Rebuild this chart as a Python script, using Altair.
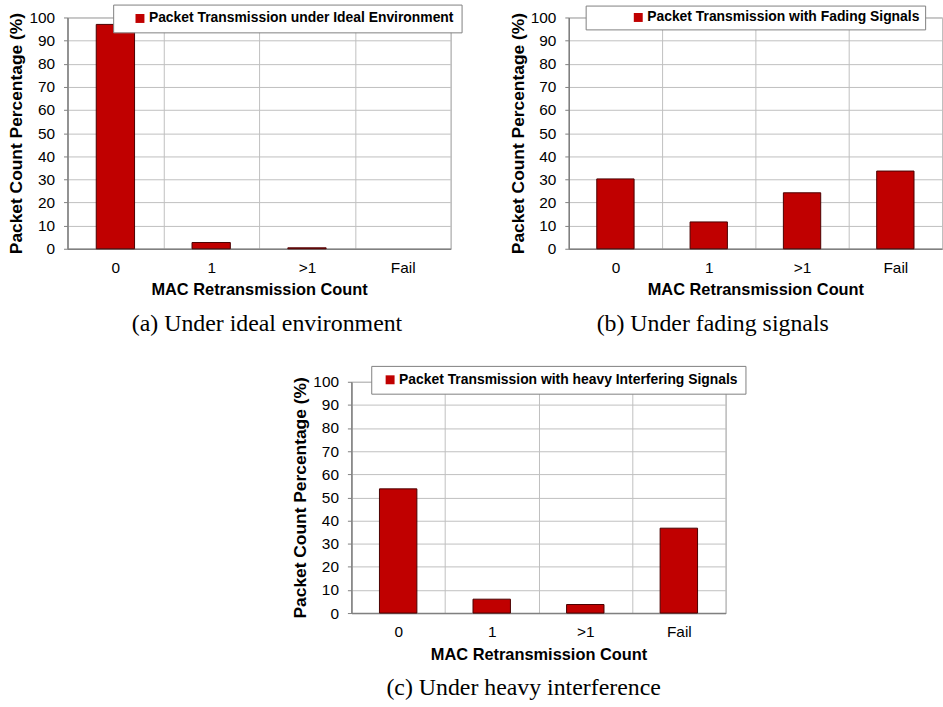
import altair as alt
import pandas as pd

# MAC retransmission outcome per packet, in percent of all packets sent
categories = ["0", "1", ">1", "Fail"]
ideal_pct = [97.0, 2.7, 0.4, 0.0]
fading_pct = [30.2, 11.6, 24.2, 33.6]
interference_pct = [53.7, 6.0, 3.7, 36.7]

series_names = [
    "Packet Transmission under Ideal Environment",
    "Packet Transmission with Fading Signals",
    "Packet Transmission with heavy Interfering Signals",
]
captions = [
    "(a) Under ideal environment",
    "(b) Under fading signals",
    "(c) Under heavy interference",
]

BAR_RED = "#C00000"
SANS = "Liberation Sans"
SERIF = "Liberation Serif"


def panel(values, series, caption, width, legend_x, legend_y, legend_pad,
          symbol_offset, caption_dx):
    df = pd.DataFrame({"count": categories, "pct": values, "series": series})
    return (
        alt.Chart(df)
        .mark_bar(width=alt.RelativeBandSize(0.4), stroke="#4a0000", strokeWidth=1)
        .encode(
            x=alt.X(
                "count:N",
                sort=categories,
                scale=alt.Scale(paddingInner=0, paddingOuter=0),
                axis=alt.Axis(
                    title="MAC Retransmission Count",
                    labelAngle=0,
                    tickBand="extent",
                    grid=True,
                    ticks=False,
                    labelPadding=12,
                    titlePadding=6,
                    titleFontSize=16.5,
                ),
            ),
            y=alt.Y(
                "pct:Q",
                scale=alt.Scale(domain=[0, 100], nice=False),
                axis=alt.Axis(
                    title="Packet Count Percentage (%)",
                    values=list(range(0, 101, 10)),
                    tickSize=4,
                    labelPadding=9,
                    titlePadding=3,
                    titleFontSize=17.5,
                ),
            ),
            color=alt.Color(
                "series:N",
                scale=alt.Scale(range=[BAR_RED]),
                legend=alt.Legend(
                    title=None,
                    orient="none",
                    legendX=legend_x,
                    legendY=legend_y,
                    padding=legend_pad,
                    fillColor="white",
                    strokeColor="#808080",
                    symbolType="square",
                    symbolSize=81,
                    symbolStrokeWidth=0,
                    symbolOffset=symbol_offset,
                    labelOffset=2,
                    labelFont=SANS,
                    labelFontSize=14,
                    labelFontWeight="bold",
                    labelColor="black",
                    labelLimit=500,
                ),
            ),
            # an empty category gets no outline at all
            strokeOpacity=alt.condition("datum.pct > 0", alt.value(1), alt.value(0)),
        )
        .properties(
            width=width,
            height=233,
            title=alt.TitleParams(
                caption,
                orient="bottom",
                anchor="middle",
                frame="group",
                dx=caption_dx,
                offset=14,
                font=SERIF,
                fontSize=24,
                fontWeight="normal",
                color="black",
            ),
        )
    )


chart_a = panel(ideal_pct, series_names[0], captions[0], 386, 46, -13, 7, 13, 8)
chart_b = panel(fading_pct, series_names[1], captions[1], 376, 17, -12, 5, 41, -43)
chart_c = panel(interference_pct, series_names[2], captions[2], 377, 20, -16, 7, 5, -15)

# invisible block that pushes the third panel toward the middle
spacer = (
    alt.Chart(pd.DataFrame({"v": [0]}))
    .mark_point(size=1, opacity=0)
    .encode(x=alt.value(1), y=alt.value(1))
    .properties(width=224, height=10, view=alt.ViewBackground(stroke="transparent"))
)

top_row = alt.hconcat(chart_a, chart_b, spacing=46).resolve_scale(
    color="independent"
).resolve_legend(color="independent")
bottom_row = alt.hconcat(spacer, chart_c, spacing=0).resolve_scale(
    color="independent"
).resolve_legend(color="independent")

chart = (
    alt.vconcat(top_row, bottom_row, spacing=28)
    .resolve_scale(color="independent")
    .resolve_legend(color="independent")
    .properties(padding={"left": 7, "top": 1, "right": 0, "bottom": 0})
    .configure(font=SANS)
    .configure_view(stroke="#a6a6a6", strokeWidth=1)
    .configure_axis(
        labelFont=SANS,
        labelFontSize=15.5,
        labelColor="black",
        titleFont=SANS,
        titleFontWeight="bold",
        titleColor="black",
        gridColor="#bfbfbf",
        gridWidth=1,
        domainColor="#808080",
        domainWidth=1.5,
        tickColor="#808080",
    )
)

chart.save("out.html", embed_options={"renderer": "svg", "actions": False})
